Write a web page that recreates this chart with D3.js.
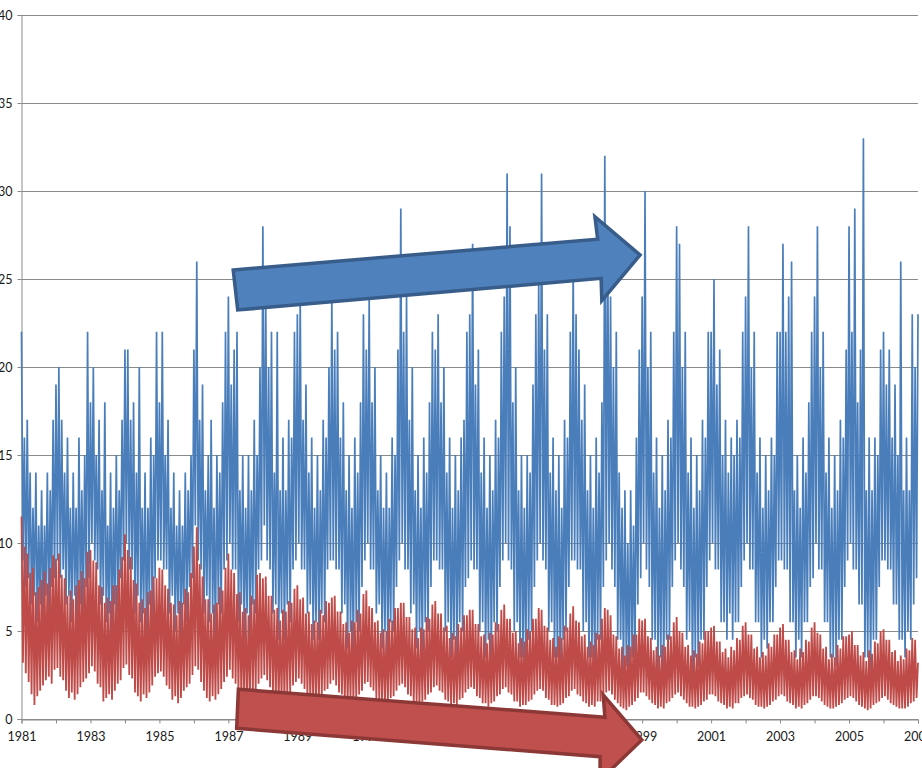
<!DOCTYPE html>
<html>
<head>
<meta charset="utf-8">
<script src="https://cdn.jsdelivr.net/npm/d3@7"></script>
<style>
body{margin:0;background:#fff}
svg{display:block}
text{font-family:Lato,"Open Sans",sans-serif;font-size:12.5px;fill:#1a1a1a}
</style>
</head>
<body>
<svg id="chart" width="922" height="768"></svg>
<script>
// time axis: one row per year, 12 monthly readings (upper / lower reach)
const startYear = 1981
const endYear = 2007
const xTickLabels = ["1981","1983","1985","1987","1989","1991","1993","1995","1997","1999","2001","2003","2005","2007"]
const yTicks = [0,5,10,15,20,25,30,35,40]

const blueHi = [
  [22,16,17,14,12,14,11,13,11,14,13,17],
  [19,20,17,14,16,12,14,12,16,13,15,22],
  [18,20,15,17,13,18,11,14,12,15,13,17],
  [21,21,17,18,14,20,12,14,12,16,15,22],
  [18,22,15,17,12,14,11,13,11,14,13,15],
  [21,26,17,19,13,15,17,12,15,14,18,22],
  [24,19,21,22,13,15,12,15,13,17,15,20],
  [28,24,20,22,14,22,13,16,13,17,16,22],
  [23,24,17,19,14,16,12,15,13,17,16,20],
  [24,21,22,16,18,13,15,12,16,14,18,23],
  [21,24,18,20,13,15,12,14,12,16,15,21],
  [29,22,24,17,20,13,15,12,16,14,18,22],
  [21,23,18,20,14,16,12,15,13,16,17,22],
  [23,27,19,21,14,16,12,15,13,17,16,22],
  [24,31,28,18,20,13,15,12,15,14,19,23],
  [25,31,21,23,14,16,13,15,12,17,16,22],
  [26,23,21,17,19,13,15,12,16,14,18,32],
  [28,24,20,22,14,12,13,10,13,11,16,21],
  [24,30,20,22,14,16,12,15,13,17,16,22],
  [28,27,20,22,14,16,12,15,13,17,16,22],
  [22,25,19,21,15,17,14,16,15,17,16,22],
  [24,28,20,22,14,16,12,15,13,16,15,22],
  [22,27,22,24,26,13,15,12,16,14,18,22],
  [24,28,20,22,14,16,12,15,13,17,16,21],
  [28,22,29,18,21,33,13,16,13,16,15,21],
  [22,19,21,16,19,15,26,13,16,13,23,20]
]
const blueLo = [
  [9,7.5,8,6.5,7,5.5,6.5,5.5,7,6,7.5,8],
  [9,8,8.5,6.5,7,5.5,7,5.5,6.5,6,7.5,8],
  [10,9,8.5,6.5,7,5.5,6,4.5,6.5,6,8,9],
  [10,8.5,8.5,6,7,5.5,6,4.5,6.5,5.5,8,9],
  [9,8.5,8.5,6,7,5,6,4.5,6.5,5.5,7.5,8],
  [11,9,8.5,6,7,5.5,6,4.5,6.5,6,8.5,9],
  [10,8.5,8.5,5.5,6.5,4.5,6,4.5,6.5,6,8.5,9],
  [11,9,8.5,6,6.5,4.5,6,4.5,6.5,5.5,8.5,9],
  [10,8.5,8.5,6,6.5,4.5,5.5,4.5,6,5.5,8.5,9],
  [9,8.5,8.5,6,6.5,4,5,3.5,5.5,5,7.5,9],
  [10,8.5,8.5,6,6.5,4,5,3.5,5.5,5,7.5,9],
  [10,8.5,8.5,6,6.5,4,5,3.5,5.5,5,7.5,9],
  [9,8.5,8.5,5,5.5,3.5,4.5,3.5,5.5,5,7.5,8],
  [9,8.5,8.5,5,5.5,3.5,4.5,3.5,5.5,5,7.5,9],
  [10,9,8.5,5,5.5,3.5,3.5,3,4.5,5,7.5,9],
  [10,9,8.5,5,5.5,3.5,3.5,2.5,4.5,5,7.5,9],
  [9,8.5,8.5,5,5.5,3.5,3.5,2.5,4.5,4.5,7.5,9],
  [10,8.5,7.5,4.5,4.5,2.5,3,2,3.5,3.5,6.5,8],
  [10,8.5,7.5,4.5,4.5,2.5,3.5,2.5,4.5,4.5,7.5,9],
  [10,8.5,7.5,4.5,5,2.5,3.5,3,4.5,4.5,7.5,9],
  [10,8.5,8.5,5.5,5.5,4.5,6,4.5,5.5,5.5,7.5,9],
  [10,8.5,8.5,5.5,5.5,3.5,4.5,4,5.5,5.5,7.5,9],
  [9,8.5,8.5,5.5,5.5,3.5,4.5,3.5,5.5,5.5,7.5,8],
  [10,8.5,8.5,5.5,5.5,3.5,3.5,3,4.5,4.5,7.5,9],
  [10,8.5,8.5,6.5,6.5,3.5,3.5,2.5,4.5,4.5,7.5,9],
  [9,8.5,8.5,6.5,6.5,4.5,4.5,3.5,5,4.5,6.5,8]
]
const blueLast = 23

const redHi = [
  [11.5,9.8,9.4,8.3,8.6,7.2,7.5,7.9,8.4,7.7,8.6,9.3],
  [9.1,9.4,8.2,8.0,7.0,7.3,6.8,7.6,7.9,8.4,8.0,9.5],
  [9.6,9.0,8.9,7.6,7.5,6.6,6.9,6.7,7.6,7.6,8.5,9.2],
  [10.5,9.6,9.2,7.9,7.7,6.6,6.8,6.3,7.2,7.3,8.1,8.0],
  [8.6,8.5,7.6,7.4,6.6,6.5,5.9,6.7,6.6,7.4,7.2,8.3],
  [9.8,10.9,8.8,8.1,6.8,6.8,6.0,6.5,6.6,7.5,7.3,8.6],
  [9.4,8.5,8.3,7.1,7.2,6.1,6.3,5.9,7.0,6.8,8.2,8.3],
  [8.0,8.1,7.0,7.0,6.2,6.3,5.6,6.2,6.1,6.7,6.6,7.4],
  [7.6,6.8,6.9,6.0,6.1,5.4,5.6,5.5,6.2,5.9,6.7,6.6],
  [6.9,7.0,6.1,6.1,5.4,5.5,4.9,5.6,5.5,6.2,6.0,7.1],
  [7.3,6.4,6.3,5.5,5.6,4.9,5.1,5.0,5.7,5.6,6.3,6.3],
  [6.6,6.6,5.8,5.8,5.1,5.2,4.6,5.2,5.1,5.8,5.7,6.5],
  [6.7,6.0,6.0,5.2,5.3,4.6,4.9,4.7,5.4,5.2,5.9,5.9],
  [6.2,6.2,5.4,5.4,4.7,4.8,4.3,4.9,4.8,5.5,5.4,6.2],
  [6.5,5.7,5.7,4.9,5.0,4.3,4.6,4.4,5.1,5.0,5.7,5.7],
  [6.3,6.2,5.3,5.2,4.5,4.6,4.1,4.7,4.6,5.3,5.2,6.0],
  [6.4,5.6,5.5,4.7,4.8,4.1,4.4,4.2,4.9,4.8,5.7,6.3],
  [6.2,5.9,4.8,4.7,4.0,4.1,3.6,4.2,4.1,4.8,4.8,5.7],
  [5.6,5.7,4.7,4.6,3.9,4.1,3.6,4.2,4.1,4.8,4.7,5.5],
  [5.8,5.0,4.9,4.1,4.2,3.6,3.9,3.7,4.4,4.3,5.0,5.0],
  [5.2,5.3,4.4,4.4,3.8,4.0,3.5,4.1,3.9,4.6,4.5,5.3],
  [5.5,4.8,4.8,4.0,4.1,3.5,3.8,3.6,4.3,4.1,4.8,4.8],
  [5.2,5.4,4.5,4.5,3.8,3.9,3.4,4.0,3.8,4.5,4.4,5.2],
  [5.5,4.9,4.8,4.0,4.1,3.4,3.7,3.5,4.2,4.0,4.7,4.7],
  [4.8,5.0,4.2,4.2,3.6,3.8,3.3,3.9,3.7,4.4,4.3,5.0],
  [5.1,4.5,4.5,3.8,3.9,3.3,3.6,3.4,4.0,3.9,4.6,4.5]
]
const redLo = [
  [3.2,2.6,2.1,1.4,0.8,1.3,1.6,1.9,2.2,2.4,2.0,2.8],
  [2.9,2.4,2.2,1.6,1.2,1.5,1.1,1.4,1.8,2.1,2.3,2.6],
  [3.0,2.7,2.0,1.8,1.0,1.2,1.4,1.1,1.6,2.0,2.2,2.9],
  [3.1,2.5,2.3,1.5,1.3,1.0,1.4,1.2,1.5,1.9,2.4,2.6],
  [2.7,2.4,1.9,1.7,1.1,1.3,0.9,1.2,1.6,1.8,2.0,2.5],
  [3.0,2.8,2.1,1.6,1.2,1.0,1.3,1.1,1.4,1.7,2.1,2.4],
  [2.8,2.3,2.0,1.5,1.1,1.2,0.9,1.3,1.5,1.6,2.0,2.3],
  [2.5,2.2,1.8,1.4,1.2,0.9,1.1,1.0,1.4,1.5,1.9,2.1],
  [2.3,2.0,1.7,1.3,1.0,1.1,0.9,1.2,1.3,1.6,1.7,2.0],
  [2.2,1.9,1.5,1.4,1.0,0.9,1.1,0.9,1.2,1.4,1.6,2.0],
  [2.1,1.8,1.6,1.2,1.1,0.8,1.0,0.9,1.2,1.3,1.6,1.9],
  [2.0,1.8,1.4,1.3,0.9,1.0,0.8,1.0,1.1,1.4,1.5,1.8],
  [1.9,1.6,1.5,1.1,1.0,0.8,0.9,0.8,1.1,1.2,1.5,1.7],
  [1.8,1.7,1.3,1.2,0.9,0.9,0.7,0.9,1.0,1.3,1.4,1.7],
  [1.8,1.5,1.4,1.0,1.0,0.7,0.8,0.8,1.0,1.1,1.4,1.6],
  [1.7,1.6,1.2,1.1,0.8,0.8,0.7,0.8,0.9,1.2,1.3,1.6],
  [1.7,1.4,1.3,1.0,0.9,0.7,0.8,0.7,1.0,1.0,1.3,1.5],
  [1.6,1.4,1.1,0.9,0.7,0.6,0.5,0.7,0.8,1.0,1.2,1.5],
  [1.5,1.3,1.1,0.9,0.8,0.6,0.7,0.6,0.9,1.0,1.2,1.4],
  [1.5,1.3,1.1,0.9,0.7,0.7,0.6,0.7,0.8,1.0,1.1,1.4],
  [1.4,1.3,1.0,0.9,0.8,0.6,0.7,0.6,0.9,0.9,1.2,1.3],
  [1.4,1.2,1.1,0.8,0.7,0.7,0.6,0.7,0.8,1.0,1.1,1.3],
  [1.4,1.3,1.0,0.9,0.8,0.6,0.7,0.6,0.8,0.9,1.1,1.3],
  [1.3,1.2,1.0,0.8,0.7,0.6,0.6,0.7,0.8,0.9,1.1,1.2],
  [1.3,1.2,1.0,0.8,0.7,0.6,0.5,0.6,0.8,0.9,1.0,1.2],
  [1.3,1.1,0.9,0.8,0.7,0.6,0.6,0.6,0.7,0.9,1.0,1.2]
]
const redLast = 3.2

// trend arrows, in [year, value] units
const blueArrow = [[1987.14,25.51],[1997.71,27.26],[1997.63,28.54],[1998.94,26.36],[1997.83,23.77],[1997.81,25.04],[1987.27,23.24]]
const redArrow = [[1987.29,1.69],[1997.92,0.10],[1997.87,1.36],[1998.99,-1.19],[1997.78,-3.47],[1997.78,-2.14],[1987.24,-0.53]]

const svg = d3.select("#chart")

const x = d3.scaleLinear().domain([startYear, endYear]).range([21.5, 918])
const y = d3.scaleLinear().domain([0, 40]).range([719, 15])

// gridlines
svg.append("g")
  .selectAll("line")
  .data(yTicks)
  .join("line")
  .attr("x1", x(startYear)).attr("x2", x(endYear))
  .attr("y1", d => Math.round(y(d)) + 0.5).attr("y2", d => Math.round(y(d)) + 0.5)
  .attr("stroke", "#8a8a8a")
  .attr("stroke-width", 1)

// y axis
const yAxis = d3.axisLeft(y).tickValues(yTicks).tickSize(4).tickPadding(5)
svg.append("g")
  .attr("transform", "translate(21.5,0)")
  .call(yAxis)
  .call(g => g.selectAll("path,line").attr("stroke", "#8a8a8a"))
  .call(g => g.selectAll("text").attr("fill", "#1a1a1a").style("font-size", "12.5px").attr("font-family", null))

// x axis
const xAxis = d3.axisBottom(x)
  .tickValues(d3.range(startYear, endYear + 1))
  .tickSize(4)
  .tickPadding(9)
  .tickFormat(d => xTickLabels.includes(String(d)) ? String(d) : "")
svg.append("g")
  .attr("transform", "translate(0,719.5)")
  .call(xAxis)
  .call(g => g.select(".domain").attr("stroke", "#8a8a8a"))
  .call(g => g.selectAll("line").attr("stroke", "#8a8a8a"))
  .call(g => g.selectAll("text").attr("fill", "#1a1a1a").style("font-size", "12.5px").attr("font-family", null))

function monthlyPoints(hi, lo, last){
  let pts = []
  hi.forEach((row, i) => {
    row.forEach((v, m) => {
      pts.push([startYear + i + m / 12, v])
      pts.push([startYear + i + (m + 0.5) / 12, lo[i][m]])
    })
  })
  pts.push([endYear, last])
  return pts
}

const line = d3.line().x(d => x(d[0])).y(d => y(d[1]))

svg.append("path")
  .datum(monthlyPoints(blueHi, blueLo, blueLast))
  .attr("d", line)
  .attr("fill", "none")
  .attr("stroke", "#4a7ebb")
  .attr("stroke-width", 1.7)
  .attr("stroke-linejoin", "bevel")

svg.append("path")
  .datum(monthlyPoints(redHi, redLo, redLast))
  .attr("d", line)
  .attr("fill", "none")
  .attr("stroke", "#be4b48")
  .attr("stroke-width", 1.8)
  .attr("stroke-linejoin", "bevel")

const arrowLine = d3.line().x(d => x(d[0])).y(d => y(d[1])).curve(d3.curveLinearClosed)

svg.append("path")
  .datum(blueArrow)
  .attr("d", arrowLine)
  .attr("fill", "#4f81bd")
  .attr("stroke", "#385d8a")
  .attr("stroke-width", 3.5)
  .attr("stroke-linejoin", "miter")

svg.append("path")
  .datum(redArrow)
  .attr("d", arrowLine)
  .attr("fill", "#c0504d")
  .attr("stroke", "#8c3836")
  .attr("stroke-width", 3.5)
  .attr("stroke-linejoin", "miter")
</script>
</body>
</html>
